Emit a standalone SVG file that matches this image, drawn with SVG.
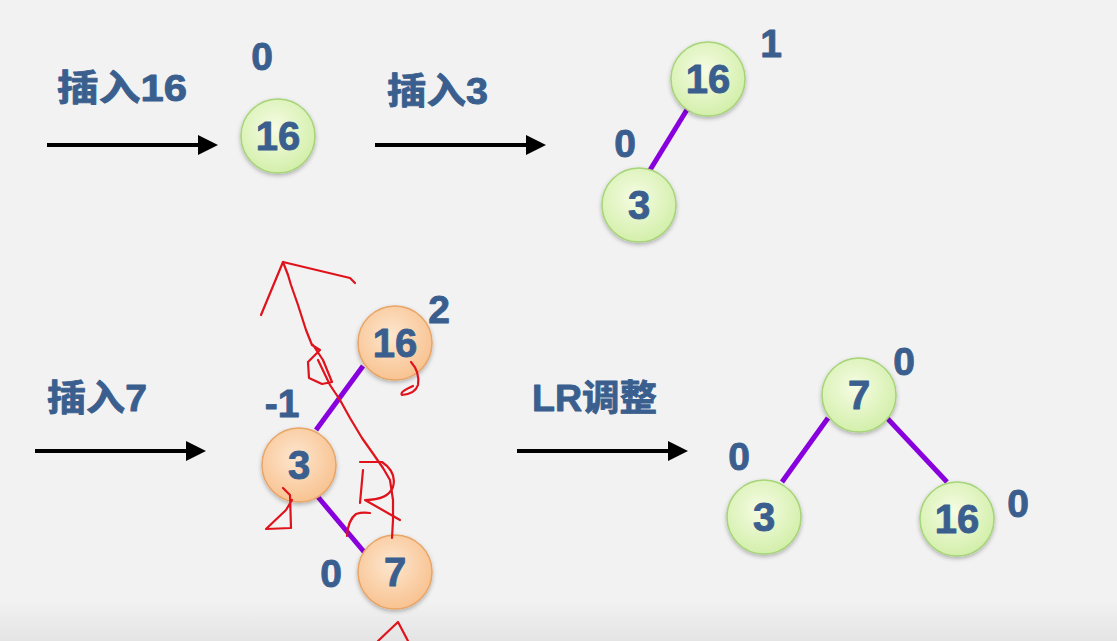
<svg xmlns="http://www.w3.org/2000/svg" width="1117" height="641" viewBox="0 0 1117 641">
<style>
.t{font-family:"Liberation Sans","Noto Sans CJK SC",sans-serif;font-weight:bold;fill:#3a5f8e;stroke:#3a5f8e;stroke-width:0.9;stroke-linejoin:round}
.title{font-size:36px}
.num{font-size:40px;text-anchor:middle}
.bf{font-size:39px;text-anchor:middle}
.g{fill:url(#gg);stroke:#a6d478;stroke-width:1.5;filter:url(#sh)}
.o{fill:url(#og);stroke:#e8a566;stroke-width:1.5;filter:url(#sh)}
.arr{stroke:#000;stroke-width:4;fill:none;marker-end:url(#ah)}
.e{stroke:#8800dd;stroke-width:5;stroke-linecap:butt}
.r{stroke:#e0121c;stroke-width:2.2;fill:none;stroke-linecap:round;stroke-linejoin:round}
</style>
<defs>
<radialGradient id="gg" cx="0.45" cy="0.4" r="0.65">
<stop offset="0" stop-color="#f6fce4"/>
<stop offset="1" stop-color="#d0eea6"/>
</radialGradient>
<radialGradient id="og" cx="0.45" cy="0.4" r="0.65">
<stop offset="0" stop-color="#fde6cf"/>
<stop offset="1" stop-color="#f8c08c"/>
</radialGradient>
<linearGradient id="bot" x1="0" y1="0" x2="0" y2="1">
<stop offset="0" stop-color="#f2f2f2"/>
<stop offset="1" stop-color="#e4e4e4"/>
</linearGradient>
<filter id="sh" x="-30%" y="-30%" width="160%" height="170%">
<feDropShadow dx="0" dy="2" stdDeviation="2" flood-color="#000" flood-opacity="0.28"/>
</filter>
<marker id="ah" markerWidth="5" markerHeight="5" refX="0" refY="2.5" orient="auto" markerUnits="strokeWidth">
<path d="M0,0 L5,2.5 L0,5 z" fill="#000"/>
</marker>
</defs>
<rect width="1117" height="641" fill="#f2f2f2"/>
<rect y="600" width="1117" height="41" fill="url(#bot)"/>

<g id="titles">
<text class="t title" x="57" y="101" textLength="130" lengthAdjust="spacingAndGlyphs">插入16</text>
<text class="t title" x="387" y="104" textLength="101" lengthAdjust="spacingAndGlyphs">插入3</text>
<text class="t title" x="47" y="411" textLength="100" lengthAdjust="spacingAndGlyphs">插入7</text>
<text class="t title" x="532" y="411" textLength="125" lengthAdjust="spacingAndGlyphs">LR调整</text>
</g>

<g id="connectors">
<line class="arr" x1="47" y1="145" x2="198" y2="145"/>
<line class="arr" x1="375" y1="145" x2="526" y2="145"/>
<line class="arr" x1="35" y1="451" x2="186" y2="451"/>
<line class="arr" x1="517" y1="451" x2="668" y2="451"/>
<line class="e" x1="688" y1="108" x2="650" y2="170"/>
<line class="e" x1="363" y1="366" x2="316" y2="430"/>
<line class="e" x1="318" y1="497" x2="365" y2="553"/>
<line class="e" x1="828" y1="418" x2="782" y2="482"/>
<line class="e" x1="887" y1="418" x2="947" y2="482"/>
</g>

<g id="n1-16"><circle class="g" cx="278" cy="136" r="37"/><text class="t num" x="278" y="150">16</text></g>
<g id="n2-16"><circle class="g" cx="708" cy="79" r="37"/><text class="t num" x="708" y="93">16</text></g>
<g id="n2-3"><circle class="g" cx="639" cy="205" r="37"/><text class="t num" x="639" y="219">3</text></g>
<g id="n3-16"><circle class="o" cx="395" cy="343" r="37"/><text class="t num" x="395" y="357">16</text></g>
<g id="n3-3"><circle class="o" cx="299" cy="465" r="37"/><text class="t num" x="299" y="479">3</text></g>
<g id="n3-7"><circle class="o" cx="395" cy="572" r="37"/><text class="t num" x="395" y="586">7</text></g>
<g id="n4-7"><circle class="g" cx="859" cy="395" r="37"/><text class="t num" x="859" y="409">7</text></g>
<g id="n4-3"><circle class="g" cx="764" cy="517" r="37"/><text class="t num" x="764" y="531">3</text></g>
<g id="n4-16"><circle class="g" cx="957" cy="519" r="37"/><text class="t num" x="957" y="533">16</text></g>

<g id="balance">
<text class="t bf" x="262" y="70">0</text>
<text class="t bf" x="771" y="57">1</text>
<text class="t bf" x="625" y="157">0</text>
<text class="t bf" x="439" y="323">2</text>
<text class="t bf" x="282" y="417">-1</text>
<text class="t bf" x="331" y="587">0</text>
<text class="t bf" x="904" y="375">0</text>
<text class="t bf" x="739" y="470">0</text>
<text class="t bf" x="1018" y="517">0</text>
</g>

<g id="annotations">
<path class="r" d="M261,315 L283,262 L350,278 L355,283"/>
<path class="r" d="M283,262 L288,275 L291,285 L298,305 L306,330 L312,345 L320,350 L308,362 L309,378 L322,384 L332,382 L323,360 L313,345 M318,360 L330,385 L340,400 L350,418 L362,438 L374,455 L383,468 L390,480 L393,500 L393,520 L392,538"/>
<path class="r" d="M363,470 L360,503 M360,462 L382,462 Q397,472 393,487 Q388,500 365,500 L400,520"/>
<path class="r" d="M347,536 Q348,520 356,514 Q362,512 370,513"/>
<path class="r" d="M411,362 Q420,372 418,385 Q415,394 402,395 Q399,392 413,386"/>
<path class="r" d="M283,488 L290,495 L291,528 L266,529 L286,510 L292,500"/>
<path class="r" d="M378,641 L398,622 L408,641"/>
</g>
</svg>
